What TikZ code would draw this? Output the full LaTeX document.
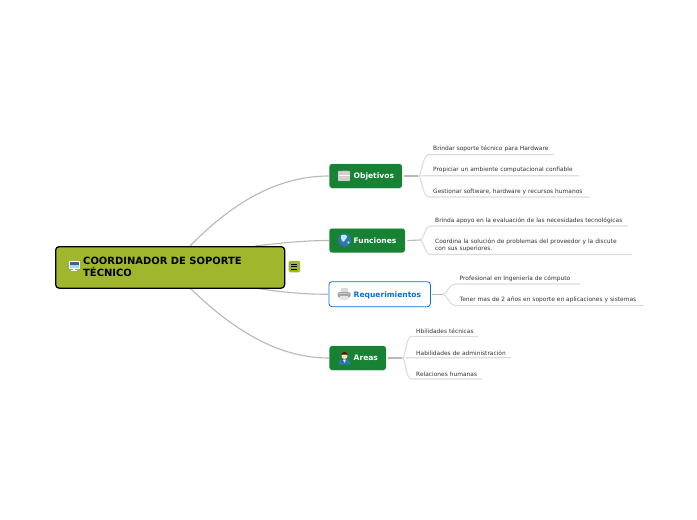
\documentclass[tikz,border=0pt]{standalone}
\usepackage{fontspec}
\usetikzlibrary{calc}
\setmainfont{DejaVu Sans}
\definecolor{rootfill}{HTML}{A0B62C}
\definecolor{topicfill}{HTML}{178234}
\definecolor{reqblue}{HTML}{0A6FE0}
\definecolor{branch}{HTML}{B8B8B8}
\definecolor{leafline}{HTML}{DDDDDD}
\tikzset{
  x=1pt,y=-1pt,
  rootbox/.style={draw=black,line width=1.3pt,fill=rootfill,rounded corners=3.5pt,minimum width=229pt,minimum height=41.5pt,inner sep=0pt},
  topicbox/.style={draw=white,fill=topicfill,rounded corners=2.5pt,minimum height=24.5pt,inner sep=0pt,anchor=west},
  reqbox/.style={draw=reqblue,line width=.8pt,fill=white,rounded corners=3pt,minimum height=25pt,inner sep=0pt,anchor=west},
  topictext/.style={anchor=west,inner sep=0pt,font=\fontsize{7.55}{9}\selectfont\bfseries},
  leafbox/.style={anchor=south west,inner xsep=4.5pt,inner ysep=2.4pt,align=left,font=\fontsize{5.9}{7.6}\selectfont,text=black!80},
  maincurve/.style={draw=branch,line width=1.1pt},
  stem/.style={draw=branch,line width=1.1pt},
  leafcurve/.style={draw=leafline,line width=1.1pt}
}
\newcommand{\leafpath}[2]{%
  \draw[leafcurve] (#1) .. controls ($(#1)+(4,0)$) and ($(#2.south west)+(-6,0)$) .. (#2.south west) -- (#2.south east);
}
\newcommand{\icobrief}[1]{\begin{scope}[shift={(#1)}]
  \fill[black!55] (-2.5,-6) rectangle (2.5,-4);
  \fill[black!18] (-6,-4.5) rectangle (6,5.5);
  \draw[black!35,line width=.4pt,rounded corners=.8pt] (-6,-4.5) rectangle (6,5.5);
  \draw[white,line width=.4pt] (-5.5,-.5) -- (5.5,-.5);
\end{scope}}
\newcommand{\icoglobe}[1]{\begin{scope}[shift={(#1)}]
  \fill[cyan!60!blue!80!black] (0,0) circle (6.5);
  \fill[white!75!cyan] (-3.5,-4.5) .. controls (-1,-6) and (2.5,-5.5) .. (2.5,-3) .. controls (2,-.5) and (0,-1) .. (-.5,1.5) .. controls (-2,2.5) and (-4,-.5) .. (-3.5,-4.5);
  \fill[white!70!cyan] (2.5,2) .. controls (4,1) and (5.5,1) .. (5,3) .. controls (4.5,4) and (3,4) .. (2.5,2);
\end{scope}}
\newcommand{\icoprinter}[1]{\begin{scope}[shift={(#1)}]
  \fill[black!15] (-3.5,-6.5) rectangle (3.5,-1);
  \fill[black!35,rounded corners=1.5pt] (-6.5,-2) rectangle (6.5,3.5);
  \fill[black!10] (-4,1.5) rectangle (4,6);
  \fill[black!22] (-5,-1) rectangle (5,0);
\end{scope}}
\newcommand{\icoperson}[1]{\begin{scope}[shift={(#1)}]
  \fill[cyan!60!blue!85!black] (-6,7) .. controls (-6,2.5) and (-3,2) .. (0,2) .. controls (3,2) and (6,2.5) .. (6,7) -- cycle;
  \fill[white] (-1.5,2) -- (1.5,2) -- (0,5) -- cycle;
  \fill[orange!25!white] (0,-1.5) circle (3);
  \fill[red!45!black] (-3,-2.5) arc (180:360:3) -- (2,-3) -- (-2,-3) -- cycle;
\end{scope}}
\begin{document}
\begin{tikzpicture}
\useasboundingbox (0,0) rectangle (697,520);
\fill[white] (0,0) rectangle (697,520);
\coordinate (rootA) at (190,246);
\coordinate (rootB) at (255,246);
\coordinate (rootC) at (255,288);
\coordinate (rootD) at (190,288);
\node[topicbox,minimum width=73pt] (obj) at (329,176) {};
\node[topicbox,minimum width=76pt] (fun) at (329,240.5) {};
\node[reqbox,minimum width=101.5pt,minimum height=25pt] (req) at (328.5,294.2) {};
\node[topicbox,minimum width=57pt] (are) at (329,358) {};
\draw[maincurve] (rootA) .. controls (235,200) and (280,176) .. (obj.west);
\draw[maincurve] (rootB) .. controls (280,243) and (305,240.5) .. (fun.west);
\draw[maincurve] (rootC) .. controls (280,292) and (305,294.5) .. (req.west);
\draw[maincurve] (rootD) .. controls (235,332) and (280,358) .. (are.west);
\node[rootbox,anchor=north west] (root) at (55,246) {};
\node[anchor=west,align=left,inner sep=0pt,font=\fontsize{9.95}{12.2}\selectfont\bfseries,text=black] (roottxt) at (83,266.8) {COORDINADOR DE SOPORTE\\TÉCNICO};
\begin{scope}[shift={(74,265.5)}]
  \fill[white] (-5.5,-4.5) rectangle (5.5,3.5);
  \fill[cyan!45!blue!60!black] (-4.5,-3.5) rectangle (4.5,2.5);
  \fill[cyan!40!white] (-4.5,-.5) rectangle (4.5,2.5);
  \fill[white] (-1.2,3.5) rectangle (1.2,5);
  \fill[white] (-3,4.6) rectangle (3,5.4);
\end{scope}
\node[fill=rootfill,rounded corners=1.5pt,minimum size=11.5pt,inner sep=0pt] (tog) at (294.3,266.5) {};
\foreach \yy in {-2.5,0,2.5}{\draw[black,line width=.6pt] ($(tog)+(-3,\yy)$) -- ($(tog)+(3,\yy)$);}
\node[topictext,text=white] (objt) at (353.5,176) {Objetivos};
\icobrief{344,175.5}
\node[topictext,text=white] (funt) at (353.5,240.7) {Funciones};
\icoglobe{344.5,240}
\node[topictext,text=reqblue] (reqt) at (353.5,295.2) {Requerimientos};
\icoprinter{344,294}
\node[topictext,text=white] (aret) at (353.5,358.2) {Areas};
\icoperson{344.5,357.5}
\coordinate (fobj) at (418,176);
\coordinate (ffun) at (420,240);
\coordinate (freq) at (443,294.2);
\coordinate (fare) at (402,358);
\draw[stem] (obj.east) ++(2,0) -- (fobj);
\draw[stem] (fun.east) ++(2,0) -- (ffun);
\draw[stem] (req.east) ++(1,0) -- (freq);
\draw[stem,line width=1.5pt] (are.east) ++(2,0) -- (fare);
\node[leafbox,text width=116pt] (a1) at (428.5,154.5) {Brindar soporte técnico para Hardware};
\node[leafbox,text width=141pt] (a2) at (428.5,175.7) {Propiciar un ambiente computacional confiable};
\node[leafbox,text width=152pt] (a3) at (428.5,197) {Gestionar software, hardware y recursos humanos};
\node[leafbox,text width=188pt] (b1) at (430.5,226) {Brinda apoyo en la evaluación de las necesidades tecnológicas};
\node[leafbox,text width=192pt] (b2) at (430.5,254.5) {Coordina la solución de problemas del proveedor y la discute\\con sus superiores.};
\node[leafbox,text width=116pt] (c1) at (455,284) {Profesional en Ingeniería de cómputo};
\node[leafbox,text width=179pt] (c2) at (455,305.5) {Tener mas de 2 años en soporte en aplicaciones y sistemas};
\node[leafbox,text width=57.5pt] (d1) at (411.5,336.5) {\mbox{Hbilidades técnicas}};
\node[leafbox,text width=90pt] (d2) at (411.5,357.7) {Habilidades de administración};
\node[leafbox,text width=61pt] (d3) at (411.5,379) {Relaciones humanas};
\foreach \f/\l in {fobj/a1,fobj/a2,fobj/a3,ffun/b1,ffun/b2,freq/c1,freq/c2,fare/d1,fare/d2,fare/d3}{\leafpath{\f}{\l}}
\end{tikzpicture}
\end{document}
